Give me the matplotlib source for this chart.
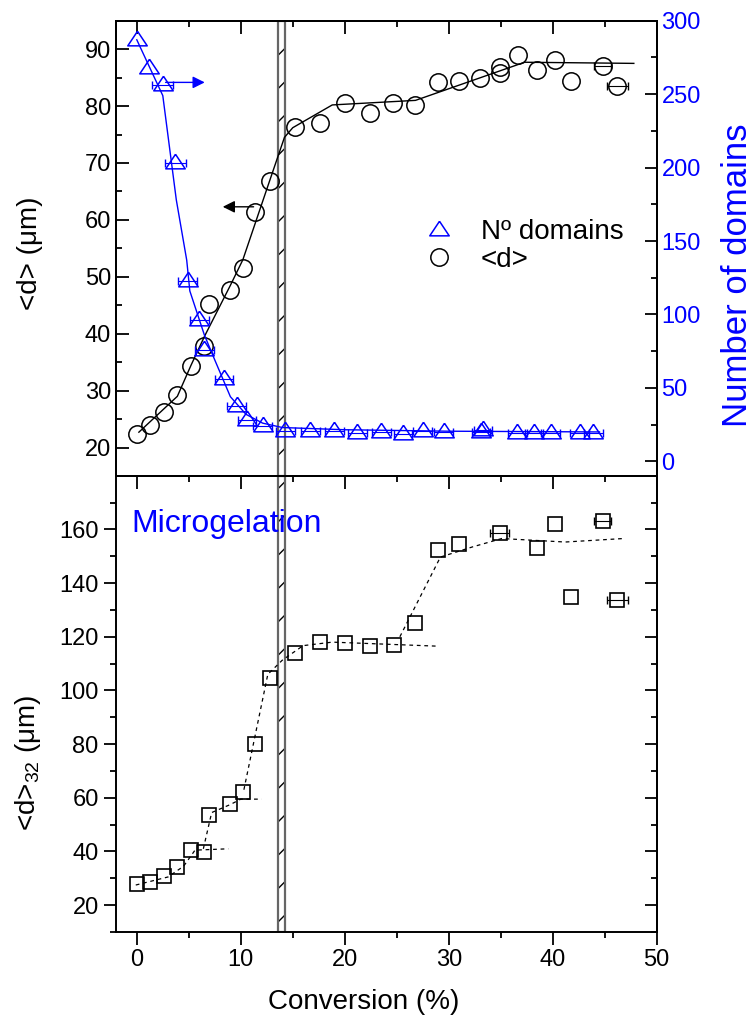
import numpy as np
import matplotlib
matplotlib.use("Agg")
import matplotlib.pyplot as plt
from matplotlib.ticker import MultipleLocator
from matplotlib.lines import Line2D

plt.rcParams['font.family'] = ['Liberation Sans', 'DejaVu Sans']
plt.rcParams['mathtext.fontset'] = 'custom'
plt.rcParams['mathtext.rm'] = 'Liberation Sans'
plt.rcParams['mathtext.default'] = 'regular'
plt.rcParams['hatch.linewidth'] = 1.0

# top panel: number of domains (right axis)
tri_x = [0.0, 1.2, 2.5, 3.7, 4.9, 6.0, 6.5, 8.4, 9.6, 10.6, 12.1, 14.3, 16.7, 19.0, 21.2,
         23.5, 25.6, 27.5, 29.5, 33.1, 33.3, 36.6, 38.2, 39.8, 42.6, 43.9]
tri_y = [287, 268, 256, 203, 123, 96, 76, 56, 38, 28, 24, 20.5, 20.5, 20.5, 19.5,
         20, 18.5, 20.5, 20, 20, 21, 19, 19, 19, 19, 19]
tri_xerr = [0, 0, 1.0, 1.0, 0.9, 0.9, 0.9, 0.9, 0.9, 0.9, 0.9, 0.9, 0.9, 0.9, 0.9,
            0.9, 0.9, 0.9, 0.9, 0.9, 0.9, 0.9, 0.9, 0.9, 0.9, 0.9]
tri_fit_x = [0.0, 2.5, 3.8, 4.8, 5.1, 6.5, 7.5, 9.0, 10.5, 12.1, 14.0, 20, 30, 44.5]
tri_fit_y = [287, 249, 178, 137, 116, 86, 69, 44, 32, 26, 23, 21.5, 20.5, 20]

# top panel: <d> (left axis)
circ_x = [0, 1.3, 2.6, 3.9, 5.2, 6.5, 6.9, 9.0, 10.2, 11.4, 12.8, 15.2, 17.6, 20.0,
          22.4, 24.6, 26.8, 29.0, 31.0, 33.0, 34.9, 34.9, 36.7, 38.5, 40.2, 41.8, 44.8, 46.2]
circ_y = [22.3, 24.0, 26.2, 29.2, 34.4, 37.9, 45.3, 47.7, 51.6, 61.3, 66.8, 76.4, 77.1, 80.5,
          78.8, 80.5, 80.1, 84.3, 84.4, 84.9, 86.8, 85.8, 89.0, 86.3, 88.1, 84.4, 87.1, 83.5]
circ_xerr = [0] * 26 + [0.8, 1.0]
circ_fit_x = [0.2, 3.9, 5.2, 6.5, 9.0, 10.2, 11.5, 12.8, 14.2, 15.0, 18.8, 26.8, 37.3, 47.8]
circ_fit_y = [22.7, 29, 34.4, 39.5, 48.5, 53, 60, 67, 74.5, 76.2, 80.2, 81, 87.7, 87.5]

# bottom panel: <d>32
sq_x = [0, 1.3, 2.6, 3.9, 5.2, 6.5, 6.9, 9.0, 10.2, 11.4, 12.8, 15.2, 17.6, 20.0, 22.4,
        24.7, 26.8, 29.0, 31.0, 34.9, 38.5, 40.2, 41.8, 44.8, 46.2]
sq_y = [27.7, 28.7, 30.8, 34.3, 40.4, 39.7, 53.5, 57.8, 62.3, 80, 104.5, 114, 117.9, 117.8,
        116.7, 117, 125, 152.2, 154.7, 158.7, 153, 162.2, 134.9, 163.1, 133.6]
sq_xerr = [0] * 19 + [0.9, 0, 0, 0, 0.85, 1.0]
seg1_x = [-0.1, 3.0, 4.5, 5.6, 8.8]
seg1_y = [27.5, 30.5, 34.5, 40.5, 41.0]
seg2_x = [6.4, 7.2, 9.0, 10.0, 12.0]
seg2_y = [41, 54.5, 57.5, 59.5, 59.5]
seg3_x = [10.3, 12.6, 14.0, 16.0, 18.8, 28.9]
seg3_y = [63, 106, 111.3, 116.7, 118, 116.5]
seg4_x = [25.3, 29.2, 32.3, 35.1, 41.2, 46.8]
seg4_y = [120, 149.7, 153.5, 156.6, 155.3, 156.6]

gel_lo, gel_hi = 13.6, 14.3


def xerr_only(ax, x, y, xerr, color):
    x, y, xerr = np.asarray(x), np.asarray(y), np.asarray(xerr)
    m = xerr > 0
    ax.errorbar(x[m], y[m], xerr=xerr[m], fmt='none', ecolor=color, elinewidth=0.8,
                capsize=3, zorder=2.5)


fig = plt.figure(figsize=(7.52, 10.18), dpi=100)
L, R = 116 / 752, 656.7 / 752
ax1 = fig.add_axes([L, 1 - 476 / 1018, R - L, (476 - 20.7) / 1018])
ax3 = fig.add_axes([L, 1 - 932 / 1018, R - L, (932 - 476) / 1018])
ax3.patch.set_visible(False)
ax2 = ax1.twinx()

tri_marker = [(0, 0.95), (-1, -0.55), (1, -0.55), (0, 0.95)]
lw_sp = 1.4

# hatched gel band
for ax in (ax1, ax3):
    ax.axvspan(gel_lo, gel_hi, facecolor='white', edgecolor='black', hatch='/', lw=0, zorder=1.5)
    ax.axvspan(gel_lo, gel_hi, fill=False, edgecolor='0.4', lw=1.6, zorder=1.6)

ax1.plot(circ_fit_x, circ_fit_y, color='black', lw=1.0, zorder=2)
xerr_only(ax1, circ_x, circ_y, circ_xerr, 'black')
ax1.plot(circ_x, circ_y, ls='none', marker='o', ms=12.5, mfc='none', mec='black', mew=1.1, zorder=3)
ax1.annotate('', xy=(8.0, 62.3), xytext=(11.5, 62.3),
             arrowprops=dict(arrowstyle='-|>', color='black', lw=1.0, mutation_scale=18))

ax2.plot(tri_fit_x, tri_fit_y, color='blue', lw=1.0, zorder=2)
xerr_only(ax2, tri_x, tri_y, tri_xerr, 'blue')
ax2.plot(tri_x, tri_y, ls='none', marker=tri_marker, ms=14, mfc='none', mec='blue', mew=1.1)
ax2.annotate('', xy=(6.8, 258), xytext=(2.5, 258),
             arrowprops=dict(arrowstyle='-|>', color='blue', lw=1.0, mutation_scale=18))

for sx, sy in ((seg1_x, seg1_y), (seg2_x, seg2_y), (seg3_x, seg3_y), (seg4_x, seg4_y)):
    ax3.plot(sx, sy, color='black', ls='--', lw=0.9, dashes=(3, 3))
xerr_only(ax3, sq_x, sq_y, sq_xerr, 'black')
ax3.plot(sq_x, sq_y, ls='none', marker='s', ms=10, mfc='none', mec='black', mew=1.2, zorder=3)
ax3.text(-0.5, 159, 'Microgelation', color='blue', fontsize=23, va='baseline', ha='left')

# limits and ticks
ax1.set_xlim(-2, 50)
ax3.set_xlim(-2, 50)
ax1.set_ylim(15, 95)
ax2.set_ylim(-10, 300)
ax3.set_ylim(10, 179.9)

ax1.yaxis.set_major_locator(MultipleLocator(10))
ax1.yaxis.set_minor_locator(MultipleLocator(5))
ax2.yaxis.set_major_locator(MultipleLocator(50))
ax2.yaxis.set_minor_locator(MultipleLocator(25))
ax3.yaxis.set_major_locator(MultipleLocator(20))
ax3.yaxis.set_minor_locator(MultipleLocator(10))
for ax in (ax1, ax3):
    ax.xaxis.set_major_locator(MultipleLocator(10))
    ax.xaxis.set_minor_locator(MultipleLocator(5))

for ax in (ax1, ax2, ax3):
    for sp in ax.spines.values():
        sp.set_linewidth(lw_sp)

ax1.tick_params(axis='y', which='both', direction='in', left=True, right=False, labelsize=17, width=1.3)
ax1.tick_params(axis='x', which='both', direction='out', bottom=True, top=False, labelbottom=False, width=1.3)
ax1.tick_params(which='major', length=9)
ax1.tick_params(which='minor', length=4.5)
top_ax = ax1.secondary_xaxis('top')
top_ax.xaxis.set_major_locator(MultipleLocator(10))
top_ax.xaxis.set_minor_locator(MultipleLocator(5))
top_ax.tick_params(which='both', direction='in', labeltop=False, width=1.3)
top_ax.tick_params(which='major', length=9)
top_ax.tick_params(which='minor', length=4.5)
top_ax.spines['top'].set_linewidth(lw_sp)

ax2.tick_params(axis='y', which='both', direction='in', labelcolor='blue', labelsize=17, width=1.3)
ax2.tick_params(which='major', length=9)
ax2.tick_params(which='minor', length=4.5)
ax2.tick_params(axis='x', which='both', bottom=False, top=False)

ax3.tick_params(axis='y', which='both', direction='out', left=True, right=False, labelsize=17, width=1.3)
ax3.tick_params(axis='x', which='both', direction='out', bottom=True, top=False, labelsize=17, width=1.3)
ax3.tick_params(which='major', length=9)
ax3.tick_params(which='minor', length=4.5)
right3 = ax3.secondary_yaxis('right')
right3.yaxis.set_major_locator(MultipleLocator(20))
right3.yaxis.set_minor_locator(MultipleLocator(10))
right3.tick_params(which='both', direction='in', labelright=False, width=1.3)
right3.tick_params(which='major', length=9)
right3.tick_params(which='minor', length=4.5)
right3.spines['right'].set_linewidth(lw_sp)

ax1.set_ylabel('<d> (μm)', fontsize=20)
ax1.yaxis.set_label_coords(-0.135, 0.49)
ax3.set_ylabel('<d>$_{32}$ (μm)', fontsize=20)
ax3.yaxis.set_label_coords(-0.135, 0.37)
ax2.set_ylabel('Number of domains', fontsize=25, color='blue')
ax2.yaxis.set_label_coords(1.118, 0.44)
ax3.set_xlabel('Conversion (%)', fontsize=20)
ax3.xaxis.set_label_coords(0.459, -0.125)

handles = [Line2D([], [], ls='none', marker=tri_marker, ms=14, mfc='none', mec='blue', mew=1.1),
           Line2D([], [], ls='none', marker='o', ms=12.5, mfc='none', mec='black', mew=1.1)]
ax2.legend(handles, ['Nº domains', '<d>'], loc='center left',
           bbox_to_anchor=(425 / 752, 1 - 246 / 1018), bbox_transform=fig.transFigure,
           frameon=False, fontsize=20, handlelength=1.0, handletextpad=1.0,
           labelspacing=0.05, borderpad=0, borderaxespad=0)

fig.savefig('out.png', dpi=100)
